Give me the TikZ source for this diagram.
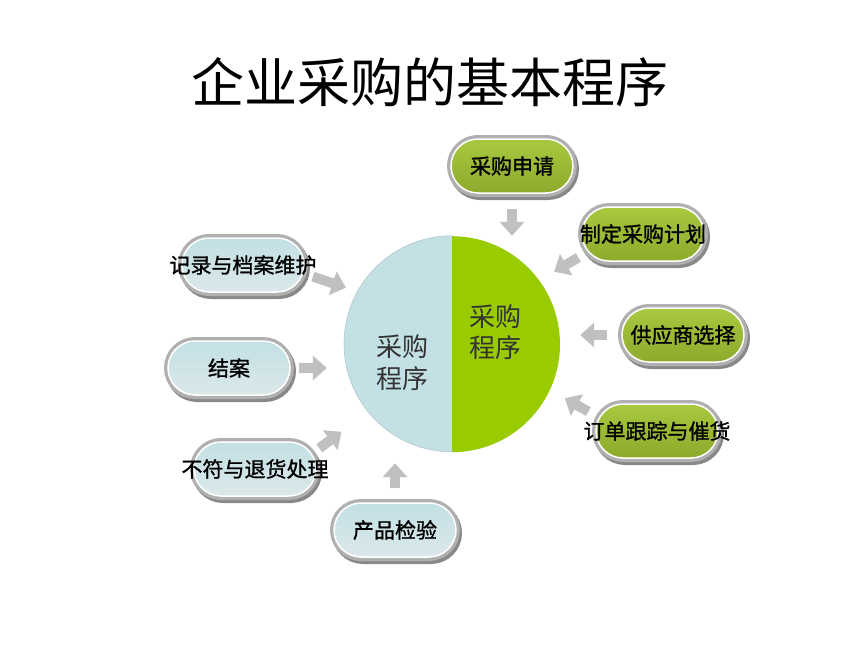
\documentclass[tikz,border=0pt]{standalone}
\usepackage{fontspec}
\newfontfamily\cjk{Noto Sans CJK SC}
\newfontfamily\cjkpill[FakeBold=1.2]{Noto Sans CJK SC}
\usetikzlibrary{shapes.misc,arrows.meta}
\definecolor{procblue}{HTML}{C3E1E5}
\definecolor{procgreen}{HTML}{99CC00}
\definecolor{pillgreentop}{HTML}{A9C940}
\definecolor{pillgreenbot}{HTML}{8DAA2B}
\definecolor{pillbluetop}{HTML}{C2E0E4}
\definecolor{pillbluebot}{HTML}{DCE8EA}
\definecolor{framegray}{HTML}{B0B0B0}
\definecolor{shadowgray}{HTML}{888888}
\definecolor{arrowgray}{HTML}{C0C0C0}
\newcommand{\pilltext}[1]{\makebox[0pt]{#1}}

\begin{document}
\begin{tikzpicture}[x=1pt,y=-1pt,
  pill/.style={rounded rectangle, minimum width=122pt, minimum height=54pt, inner sep=0pt,
    font=\cjkpill\fontsize{21}{24}\selectfont,
    preaction={fill=shadowgray, draw=shadowgray, line width=8pt, transform canvas={shift={(2pt,-3pt)}}},
    preaction={draw=framegray, line width=8pt},
    draw=white, line width=1.5pt},
  greenpill/.style={pill, top color=pillgreentop, bottom color=pillgreenbot},
  bluepill/.style={pill, top color=pillbluetop, bottom color=pillbluebot},
  feed/.style={draw=arrowgray, fill=arrowgray, line width=10pt, -{Triangle[width=24pt,length=14pt]}}]
  \useasboundingbox[fill=white] (0,0) rectangle (860,645);
  \node[font=\cjk\fontsize{53}{58}\selectfont] (title) at (430,82) {企业采购的基本程序};
  \node[circle, minimum size=216pt, inner sep=0pt] (proc) at (452,344) {};
  \fill[procblue] (proc.north) arc[start angle=90, end angle=270, radius=108pt] -- cycle;
  \fill[procgreen] (proc.south) arc[start angle=-90, end angle=90, radius=108pt] -- cycle;
  \draw[procblue!75!gray, line width=0.6pt] (proc.north) arc[start angle=90, end angle=270, radius=108pt];
  \node[font=\cjk\fontsize{26}{32}\selectfont, align=center, text=black!80] (left) at (402,363) {采购\\程序};
  \node[font=\cjk\fontsize{26}{31}\selectfont, align=center, text=black!80] (right) at (495,332) {采购\\程序};
  \node[greenpill] (p1) at (512,166) {\pilltext{采购申请}};
  \node[greenpill] (p2) at (643,234) {\pilltext{制定采购计划}};
  \node[greenpill] (p3) at (683,335) {\pilltext{供应商选择}};
  \node[greenpill] (p4) at (657,431) {\pilltext{订单跟踪与催货}};
  \node[bluepill] (p5) at (395,530) {\pilltext{产品检验}};
  \node[bluepill] (p6) at (255,469) {\pilltext{不符与退货处理}};
  \node[bluepill] (p7) at (229,368) {\pilltext{结案}};
  \node[bluepill] (p8) at (243,265) {\pilltext{记录与档案维护}};
  \draw[feed, shorten <=15pt] (p1.south) -- (p1.south |- proc.north);
  \draw[feed, shorten <=11pt, shorten >=17pt] (p2.198) -- (proc.36);
  \draw[feed, shorten <=14pt, shorten >=20pt] (p3.west) -- (p3.west -| proc.east);
  \draw[feed, shorten <=12pt, shorten >=17pt] (p4.167) -- (proc.-25);
  \draw[feed, shorten <=14pt, shorten >=11pt] (p5.north) -- (p5.north |- proc.south);
  \draw[feed, shorten <=9pt, shorten >=33pt] (p6.15) -- (proc.-141);
  \draw[feed, shorten <=8pt, shorten >=17pt] (p7.east) -- (p7.east -| proc.west);
  \draw[feed, shorten <=10pt, shorten >=12pt] (p8.-8) -- (proc.151);
\end{tikzpicture}
\end{document}
